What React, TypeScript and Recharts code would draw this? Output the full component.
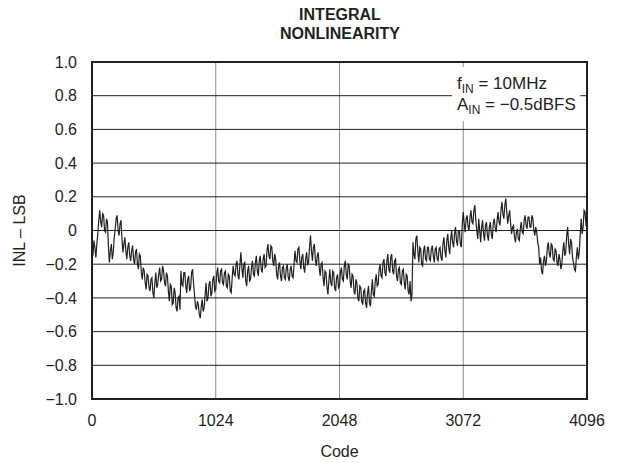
import { LineChart, Line, XAxis, YAxis, CartesianGrid, ReferenceArea, Label } from "recharts";

const inl = [
  -0.12, -0.15, -0.06, -0.1, -0.16, -0.08, -0.02, 0.06, 0.12, 0.05, 0.02, 0.1, 0.09, 0.0, -0.01, 0.07,
  0.05, -0.1, -0.19, -0.12, -0.08, -0.17, -0.13, -0.04, 0.01, 0.07, 0.09, 0.0, -0.03, 0.04, 0.06, -0.05,
  -0.13, -0.08, -0.04, -0.12, -0.17, -0.1, -0.07, -0.15, -0.18, -0.12, -0.09, -0.17, -0.2, -0.13, -0.11, -0.2,
  -0.23, -0.14, -0.15, -0.25, -0.29, -0.22, -0.24, -0.31, -0.35, -0.26, -0.27, -0.34, -0.36, -0.29, -0.28, -0.37,
  -0.4, -0.31, -0.25, -0.34, -0.32, -0.26, -0.22, -0.3, -0.29, -0.21, -0.24, -0.31, -0.33, -0.25, -0.27, -0.36,
  -0.42, -0.32, -0.33, -0.44, -0.43, -0.34, -0.37, -0.46, -0.48, -0.4, -0.39, -0.47, -0.24, -0.32, -0.33, -0.25,
  -0.25, -0.33, -0.37, -0.29, -0.27, -0.36, -0.34, -0.25, -0.23, -0.31, -0.38, -0.45, -0.47, -0.42, -0.44, -0.5,
  -0.52, -0.45, -0.41, -0.48, -0.46, -0.38, -0.31, -0.42, -0.4, -0.32, -0.3, -0.39, -0.37, -0.29, -0.27, -0.36,
  -0.35, -0.26, -0.22, -0.3, -0.31, -0.24, -0.23, -0.31, -0.32, -0.25, -0.24, -0.33, -0.34, -0.26, -0.27, -0.36,
  -0.37, -0.28, -0.21, -0.26, -0.27, -0.2, -0.18, -0.27, -0.29, -0.2, -0.13, -0.22, -0.28, -0.2, -0.19, -0.3,
  -0.33, -0.24, -0.21, -0.3, -0.29, -0.22, -0.18, -0.26, -0.27, -0.19, -0.15, -0.24, -0.27, -0.18, -0.15, -0.23,
  -0.25, -0.17, -0.14, -0.22, -0.21, -0.12, -0.08, -0.15, -0.17, -0.09, -0.1, -0.18, -0.21, -0.14, -0.17, -0.26,
  -0.29, -0.21, -0.19, -0.27, -0.3, -0.22, -0.21, -0.28, -0.29, -0.22, -0.2, -0.28, -0.3, -0.23, -0.21, -0.27,
  -0.28, -0.2, -0.12, -0.18, -0.19, -0.11, -0.1, -0.18, -0.23, -0.16, -0.14, -0.22, -0.25, -0.17, -0.13, -0.2,
  -0.19, -0.1, -0.03, -0.12, -0.18, -0.1, -0.08, -0.17, -0.21, -0.15, -0.13, -0.22, -0.27, -0.2, -0.19, -0.28,
  -0.33, -0.24, -0.25, -0.33, -0.38, -0.3, -0.23, -0.31, -0.33, -0.24, -0.25, -0.34, -0.36, -0.28, -0.26, -0.34,
  -0.33, -0.25, -0.22, -0.29, -0.3, -0.21, -0.18, -0.26, -0.29, -0.2, -0.21, -0.3, -0.34, -0.26, -0.27, -0.36,
  -0.38, -0.29, -0.31, -0.4, -0.42, -0.33, -0.34, -0.42, -0.44, -0.36, -0.35, -0.43, -0.46, -0.37, -0.33, -0.43,
  -0.45, -0.36, -0.29, -0.38, -0.39, -0.3, -0.26, -0.33, -0.32, -0.23, -0.2, -0.27, -0.28, -0.19, -0.17, -0.25,
  -0.27, -0.18, -0.14, -0.23, -0.25, -0.16, -0.14, -0.24, -0.26, -0.18, -0.17, -0.27, -0.3, -0.23, -0.22, -0.31,
  -0.32, -0.24, -0.23, -0.31, -0.35, -0.26, -0.27, -0.36, -0.38, -0.3, -0.42, -0.38, -0.07, -0.14, -0.17, -0.05,
  -0.03, -0.12, -0.19, -0.1, -0.11, -0.2, -0.21, -0.12, -0.09, -0.17, -0.18, -0.1, -0.1, -0.17, -0.18, -0.11,
  -0.09, -0.15, -0.19, -0.11, -0.1, -0.17, -0.18, -0.11, -0.1, -0.16, -0.18, -0.08, -0.04, -0.12, -0.16, -0.06,
  -0.02, -0.1, -0.14, -0.05, 0.0, -0.07, -0.1, -0.02, 0.02, -0.06, -0.09, 0.0, 0.0, -0.08, -0.1, 0.04,
  0.11, 0.04, -0.01, 0.07, 0.09, 0.02, 0.0, 0.08, 0.12, 0.05, 0.04, 0.12, 0.15, 0.06, 0.0, -0.05,
  0.07, 0.0, -0.07, 0.02, 0.06, -0.02, -0.06, 0.03, 0.05, -0.03, -0.06, 0.02, 0.05, -0.02, -0.05, 0.04,
  0.07, 0.02, -0.01, 0.06, 0.11, 0.05, 0.03, 0.12, 0.17, 0.1, 0.07, 0.15, 0.19, 0.11, 0.04, 0.09,
  0.12, 0.04, -0.02, 0.02, 0.03, -0.04, -0.07, -0.01, 0.01, -0.05, -0.06, 0.01, 0.05, -0.01, -0.02, 0.06,
  0.09, 0.03, 0.01, 0.08, 0.08, 0.02, 0.02, 0.09, 0.07, 0.0, -0.03, 0.02, -0.01, -0.07, -0.1, -0.2,
  -0.16, -0.24, -0.26, -0.18, -0.15, -0.21, -0.18, -0.1, -0.07, -0.14, -0.16, -0.08, -0.09, -0.17, -0.18, -0.11,
  -0.12, -0.19, -0.21, -0.14, -0.17, -0.23, -0.2, -0.12, -0.07, -0.15, -0.13, -0.03, 0.02, -0.08, -0.14, -0.05,
  -0.07, -0.16, -0.19, -0.23, -0.24, -0.16, -0.1, -0.17, -0.13, -0.02, 0.07, -0.02, 0.02, 0.12, 0.11, 0.03,
  0.02,
];
const CODE_STEP = 8;

const xTicks = [0, 1024, 2048, 3072, 4096];
const yTicks = [-1, -0.8, -0.6, -0.4, -0.2, 0, 0.2, 0.4, 0.6, 0.8, 1];

const data = inl.map((v, i) => ({ code: i * CODE_STEP, inl: v }));

const INK = "#231f20";
const FONT = "'Liberation Sans', Arial, sans-serif";

const fmtY = (v: number) => (v === 0 ? "0" : v.toFixed(1).replace("-", "\u2212"));

function Conditions(props: any) {
  const { x, y } = props.viewBox;
  const tx = x + 5;
  return (
    <g fontFamily={FONT} fill={INK}>
      <text x={tx} y={y + 22} fontSize={17}>
        f<tspan fontSize={12} dy={4}>IN</tspan>
        <tspan dy={-4}> = 10MHz</tspan>
      </text>
      <text x={tx} y={y + 43} fontSize={17}>
        A<tspan fontSize={12} dy={4}>IN</tspan>
        <tspan dy={-4}> = {"\u2212"}0.5dBFS</tspan>
      </text>
    </g>
  );
}

function YTitle(props: any) {
  const { x, y, height } = props.viewBox;
  const cx = x + 7;
  const cy = y + height / 2;
  return (
    <text
      x={cx}
      y={cy}
      transform={`rotate(-90 ${cx} ${cy})`}
      textAnchor="middle"
      dominantBaseline="central"
      fill={INK}
      fontSize={16}
      fontFamily={FONT}
    >
      INL – LSB
    </text>
  );
}

export default function App() {
  return (
    <div style={{ position: "absolute", left: 0, top: 0, width: 619, height: 463, background: "#fff", fontFamily: FONT }}>
      <div
        style={{
          position: "absolute",
          left: 190,
          top: 5,
          width: 300,
          textAlign: "center",
          fontWeight: "bold",
          fontSize: 16,
          lineHeight: "19px",
          color: INK,
        }}
      >
        INTEGRAL
        <br />
        NONLINEARITY
      </div>
      <LineChart width={619} height={463} data={data} margin={{ top: 62, right: 32, bottom: 0, left: 12 }}>
        <CartesianGrid horizontal={false} stroke="#8a8a8a" />
        <CartesianGrid vertical={false} stroke={INK} />
        <XAxis
          dataKey="code"
          type="number"
          domain={[0, 4096]}
          ticks={xTicks}
          height={64}
          tickLine={false}
          axisLine={false}
          tickSize={0}
          tickMargin={16}
          tick={{ fill: INK, fontSize: 16, fontFamily: FONT }}
        >
          <Label value="Code" position="insideBottom" offset={6} fill={INK} fontSize={16} fontFamily={FONT} />
        </XAxis>
        <YAxis
          type="number"
          domain={[-1, 1]}
          ticks={yTicks}
          width={80}
          tickLine={false}
          axisLine={false}
          tickSize={0}
          tickMargin={15}
          tickFormatter={fmtY}
          tick={{ fill: INK, fontSize: 16, fontFamily: FONT }}
        >
          <Label content={YTitle} />
        </YAxis>
        <ReferenceArea x1={2979} x2={4040} y1={0.65} y2={0.97} fill="#fff" fillOpacity={1} stroke="none">
          <Label content={Conditions} />
        </ReferenceArea>
        <Line
          type="linear"
          dataKey="inl"
          stroke={INK}
          strokeWidth={1.2}
          dot={false}
          isAnimationActive={false}
        />
        <ReferenceArea x1={0} x2={4096} y1={-1} y2={1} fill="none" stroke={INK} strokeWidth={2} />
      </LineChart>
    </div>
  );
}
